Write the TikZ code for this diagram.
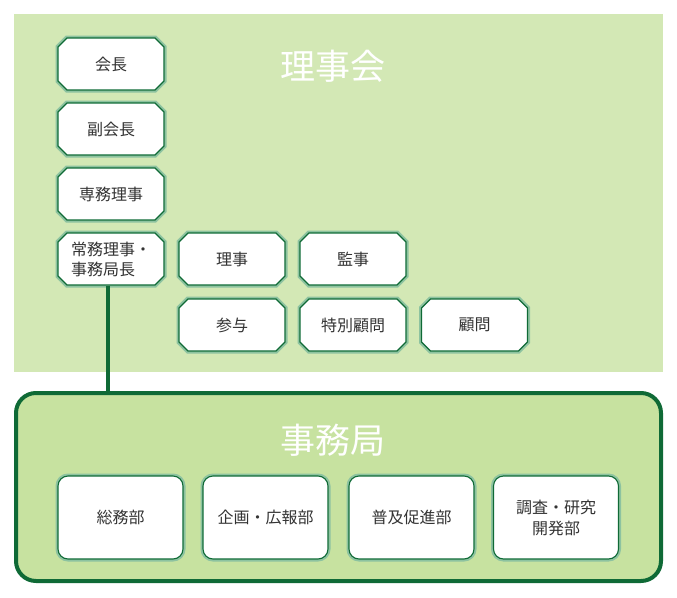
\documentclass[tikz,border=0pt]{standalone}
\usepackage{fontspec}
\setmainfont{Noto Sans CJK JP}
\usepackage{tikz}
\usetikzlibrary{shapes.misc}
\usepackage{xcolor}
\definecolor{rijiBg}{HTML}{D3E8B5}
\definecolor{jimuBg}{HTML}{C7E2A0}
\definecolor{deepGreen}{HTML}{0F6A36}
\definecolor{ringGreen}{HTML}{8DC3A0}
\definecolor{textGray}{HTML}{333333}

\begin{document}
\begin{tikzpicture}[x=1pt,y=-1pt,
  yakuin/.style={chamfered rectangle, chamfered rectangle sep=4.5pt,
    minimum width=106pt, minimum height=52pt, inner sep=0pt,
    fill=white, draw=deepGreen, line width=1.1pt,
    preaction={draw=ringGreen, line width=5pt},
    text=textGray, font=\fontsize{16}{20}\selectfont, align=left},
  bukyoku/.style={rectangle, rounded corners=10pt,
    minimum width=125pt, minimum height=83pt, inner sep=0pt,
    fill=white, draw=deepGreen, line width=1.1pt,
    preaction={draw=ringGreen, line width=5pt},
    text=textGray, font=\fontsize{16}{21}\selectfont, align=center},
  midashi/.style={text=white, font=\fontsize{35}{38}\selectfont}]
\useasboundingbox (0,0) rectangle (677,597);
\fill[rijiBg] (14,14) rectangle (663,372);
\node[midashi] (rijikai) at (333,66) {理事会};
\node[yakuin] (kaicho) at (111,64) {会長};
\node[yakuin] (fukukaicho) at (111,129) {副会長};
\node[yakuin] (senmu) at (111,194) {専務理事};
\node[yakuin] (jomu) at (111,259) {常務理事・\\事務局長};
\node[yakuin] (riji) at (232,259) {理事};
\node[yakuin] (kanji) at (353,259) {監事};
\node[yakuin] (sanyo) at (232,325) {参与};
\node[yakuin] (tokubetsu) at (353,325) {特別顧問};
\node[yakuin] (komon) at (474.5,325) {顧問};
\draw[draw=deepGreen, line width=4pt, rounded corners=20pt, fill=jimuBg] (16,393) rectangle (661,581);
\coordinate (jimuTop) at (108,393);
\draw[deepGreen, line width=4pt] (jomu.south -| jimuTop) -- (jimuTop);
\node[midashi] (jimukyoku) at (333,440) {事務局};
\node[bukyoku] (somu) at (120.5,517.5) {総務部};
\node[bukyoku] (kikaku) at (265.5,517.5) {企画・広報部};
\node[bukyoku] (fukyu) at (411.5,517.5) {普及促進部};
\node[bukyoku] (chosa) at (556,517.5) {調査・研究\\開発部};
\end{tikzpicture}
\end{document}
